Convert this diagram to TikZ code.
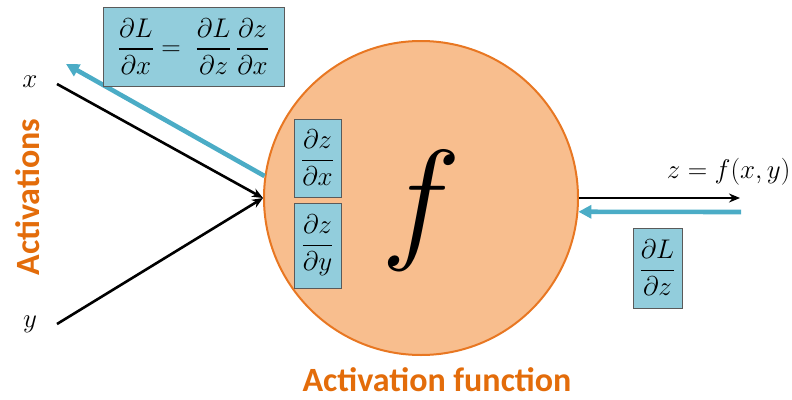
\RequirePackage{fix-cm}
\documentclass[tikz,border=0pt]{standalone}
\usepackage{amsmath,amssymb}
\usepackage{fontspec}
\setmainfont{Carlito}
\usepackage{xcolor}
\usepackage{tikz}
\usetikzlibrary{arrows.meta,calc}
\definecolor{FnFill}{HTML}{F8BE8E}
\definecolor{FnLine}{HTML}{E87722}
\definecolor{FnText}{HTML}{E36C0A}
\definecolor{GradFill}{HTML}{92CDDC}
\definecolor{GradLine}{HTML}{5A5A5A}
\definecolor{GradArrow}{HTML}{4BACC6}

\begin{document}
\begin{tikzpicture}[x=1pt,y=-1pt,
          every node/.style={font=\fontsize{27}{31}\selectfont},
          fwd/.style={-{Stealth[length=11pt,width=9pt]},line width=2.6pt,black},
          bwd/.style={-{Triangle[length=13pt,width=13pt]},line width=4.6pt,GradArrow},
          grad/.style={draw=GradLine,fill=GradFill,line width=0.8pt,inner sep=1pt}]
        \useasboundingbox (0,0) rectangle (792,399);
        % neuron
        \node[circle,draw=FnLine,fill=FnFill,line width=2pt,minimum size=314pt,
          inner sep=0pt] (fn) at (421,198) {};
        \node (fsym) at (421,211) {\fontsize{135}{135}\selectfont$f$};
        % local gradients
        \node[grad,minimum width=47pt,minimum height=78pt] (gx) at (317.5,158)
        {$\dfrac{\partial z}{\partial x}$};
        \node[grad,minimum width=47pt,minimum height=85pt] (gy) at (317.5,245.5)
        {$\dfrac{\partial z}{\partial y}$};
        % inputs
        \node (xl) at (30,82) {$x$};
        \node (yl) at (30,324) {$y$};
        \coordinate (xs) at (57,84);
        \coordinate (ys) at (57,324);
        \draw[fwd] (xs) -- (fn.west);
        \draw[fwd] (ys) -- (fn.west);
        % output
        \coordinate (zo) at (740,198);
        \node[anchor=east] (zl) at (794,172) {$z = f(x,y)$};
        \draw[fwd] (fn.east) -- (zo);
        \coordinate (gs) at (741,212);
        \draw[bwd] (gs) -- (fn.-5);
        \node[grad,minimum width=49pt,minimum height=80pt] (gout) at (657.5,268)
        {$\dfrac{\partial L}{\partial z}$};
        % back to x
        \coordinate (bx) at (66,64);
        \draw[bwd] (fn.172.5) -- (bx);
        \node[grad,minimum width=181pt,minimum height=79pt] (gin) at (193.5,46.5)
        {$\dfrac{\partial L}{\partial x} = \;\dfrac{\partial L}{\partial z}\,\dfrac{\partial z}{\partial x}$};
        % captions
        \node[text=FnText,rotate=90,font=\fontsize{34}{36}\selectfont\bfseries]
        (act) at (28,197) {Activations};
        \node[text=FnText,font=\fontsize{34}{36}\selectfont\bfseries,inner sep=1pt]
        (actfn) at (437,380) {Activation function};
      \end{tikzpicture}
\end{document}
